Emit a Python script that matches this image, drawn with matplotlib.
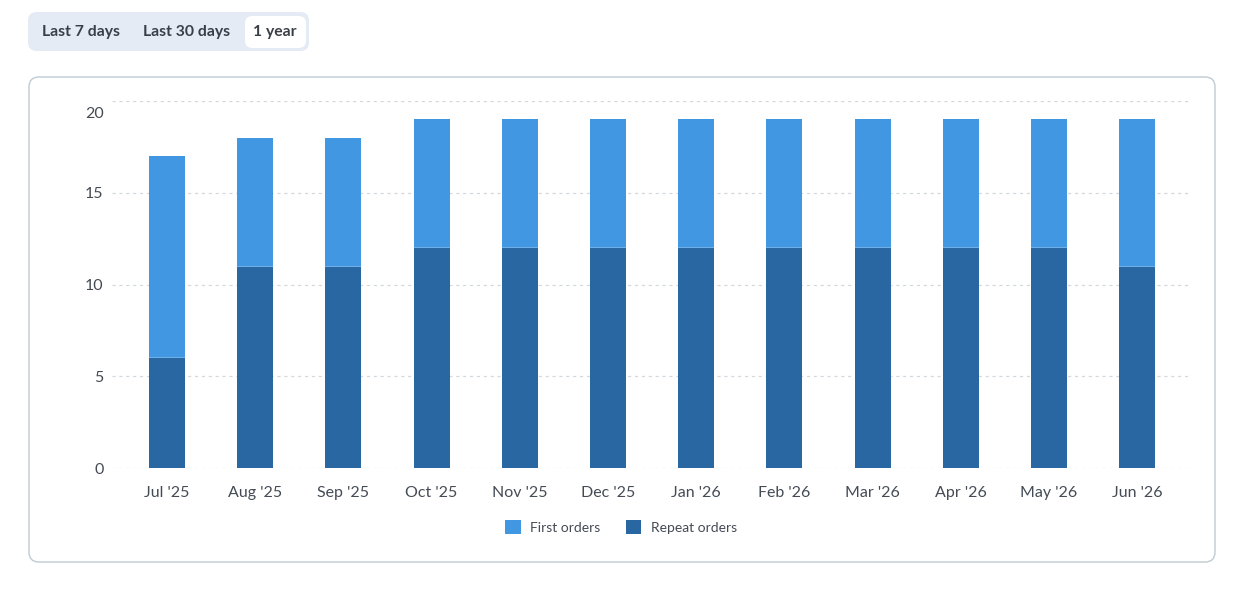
import matplotlib
matplotlib.use("Agg")
import matplotlib.pyplot as plt
from matplotlib.patches import FancyBboxPatch
import numpy as np

plt.rcParams['font.family'] = ['Lato', 'DejaVu Sans']

months = ["Jul '25", "Aug '25", "Sep '25", "Oct '25", "Nov '25", "Dec '25",
          "Jan '26", "Feb '26", "Mar '26", "Apr '26", "May '26", "Jun '26"]
repeat_orders = [6, 11, 11, 12, 12, 12, 12, 12, 12, 12, 12, 11]
first_orders = [11, 7, 7, 7, 7, 7, 7, 7, 7, 7, 7, 8]
y_ticks = [0, 5, 10, 15, 20]
ranges = ["Last 7 days", "Last 30 days", "1 year"]

light_blue = "#4297E3"
dark_blue = "#2867A1"

W, H = 1238, 590
fig = plt.figure(figsize=(W / 100, H / 100), dpi=100)

def fx(px):
    return px / W

def fy(py):
    return 1 - py / H

# card around the chart
card = FancyBboxPatch((fx(29), fy(562)), fx(1215) - fx(29), fy(77) - fy(562),
                      boxstyle="round,pad=0,rounding_size=0.008",
                      transform=fig.transFigure, facecolor="white",
                      edgecolor="#BFCBD3", linewidth=1.0, mutation_aspect=W / H,
                      zorder=-2)
fig.patches.append(card)

# range switch buttons
group = FancyBboxPatch((fx(28), fy(51)), fx(309) - fx(28), fy(12) - fy(51),
                       boxstyle="round,pad=0,rounding_size=0.007",
                       transform=fig.transFigure, facecolor="#E4EBF4",
                       edgecolor="none", mutation_aspect=W / H, zorder=-2)
fig.patches.append(group)
active = FancyBboxPatch((fx(245), fy(48)), fx(306) - fx(245), fy(16) - fy(48),
                        boxstyle="round,pad=0,rounding_size=0.006",
                        transform=fig.transFigure, facecolor="white",
                        edgecolor="none", mutation_aspect=W / H, zorder=-1)
fig.patches.append(active)
for label, cx in zip(ranges, [81, 187, 275]):
    fig.text(fx(cx), fy(32), label, ha="center", va="center", fontsize=11.3,
             fontweight="bold", color="#3A3F47")

# the chart
x0, x1 = 112, 1190
y0, y1 = 468, 101
ax = fig.add_axes([fx(x0), fy(y0), fx(x1) - fx(x0), fy(y1) - fy(y0)])
x = np.arange(len(months))
ax.bar(x, repeat_orders, width=0.41, color=dark_blue, edgecolor="none",
       label="Repeat orders", zorder=3)
ax.bar(x, first_orders, bottom=repeat_orders, width=0.41, color=light_blue,
       edgecolor="none", label="First orders", zorder=3)
# thin light seam between the two segments
ax.bar(x, 0.06, bottom=np.array(repeat_orders) - 0.03, width=0.41,
       color="#6FAEE6", edgecolor="none", zorder=4)

left_edge = -(167 - x0) / 88.2
right_edge = (x1 - 167) / 88.2
ax.set_xlim(left_edge, right_edge)
ax.set_ylim(0, 20)
ax.set_yticks(y_ticks)
ax.set_yticklabels([str(t) for t in y_ticks])
ax.set_xticks(x)
ax.set_xticklabels(months)
ax.tick_params(axis="both", length=0, labelsize=11.5, labelcolor="#444B55")
ax.tick_params(axis="x", pad=13)
ax.tick_params(axis="y", pad=6)
# top label sits a little below its grid line
ax.get_yticklabels()[-1].set_transform(
    ax.get_yticklabels()[-1].get_transform()
    + matplotlib.transforms.ScaledTranslation(0, -12 / 100, fig.dpi_scale_trans))
ax.yaxis.grid(True, linestyle=(0, (2.5, 3)), color="#D3D8DE", linewidth=0.9, zorder=0)
for s in ax.spines.values():
    s.set_visible(False)
ax.set_facecolor("none")

# legend
handles, labels = ax.get_legend_handles_labels()
leg = fig.legend(handles[::-1], labels[::-1], loc="center",
                 bbox_to_anchor=(fx(621), fy(527)), ncol=2, frameon=False,
                 fontsize=10, handlelength=1.1, handleheight=1.1,
                 handletextpad=0.7, columnspacing=1.8, labelcolor="#444B55")

fig.savefig("out.png", dpi=100)
